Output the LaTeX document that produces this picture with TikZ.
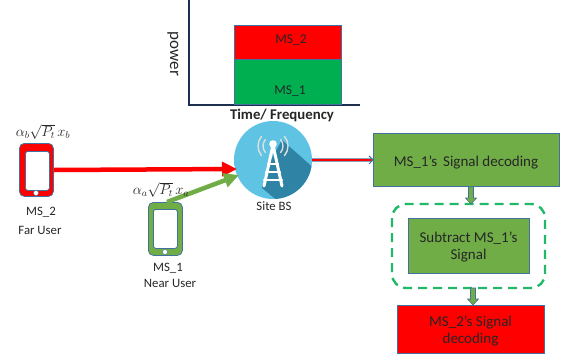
\documentclass[tikz,border=0pt]{standalone}
\usepackage{fontspec}
\setmainfont{Carlito}
\usetikzlibrary{arrows.meta,calc}
\definecolor{boxgreen}{HTML}{70AD47}
\definecolor{barGreen}{HTML}{00B050}
\definecolor{edgeblue}{HTML}{41719C}
\definecolor{navy}{HTML}{1F2F50}
\definecolor{dashgreen}{HTML}{22B86A}
\definecolor{skyb}{HTML}{5FC3E4}
\definecolor{shadeb}{HTML}{2F84A6}
\definecolor{txt}{HTML}{262626}
\tikzset{
  flowbox/.style={draw=edgeblue,line width=0.9pt,inner sep=0pt,anchor=north west},
  flowtext/.style={text=txt,font=\fontsize{15}{17}\selectfont,align=center,inner sep=0pt},
  barbox/.style={draw=edgeblue,line width=0.9pt,inner sep=0pt,anchor=north west},
  lbl/.style={text=txt,font=\fontsize{12.8}{14}\selectfont,align=center,inner sep=0pt},
  phone/.style={draw=edgeblue,line width=0.8pt,rounded corners=5pt,inner sep=0pt,anchor=north west,minimum width=34pt,minimum height=53pt},
  screen/.style={draw=edgeblue,line width=0.8pt,fill=white,rounded corners=2.5pt,inner sep=0pt,minimum width=24pt,minimum height=39pt,anchor=north west},
  homekey/.style={draw=edgeblue,line width=0.4pt,fill=white,circle,inner sep=0pt,minimum size=5pt},
  signal/.style={line width=4.5pt,-{Triangle[length=15pt,width=14pt]}},
  downarrow/.style={draw=edgeblue,fill=boxgreen,line width=0.6pt},
  axisline/.style={draw=navy,line width=1.5pt},
  mathlbl/.style={text=txt,inner sep=0pt,font=\fontsize{14.5}{16}\selectfont},
}
\begin{document}
\begin{tikzpicture}[x=1pt,y=-1pt]
\useasboundingbox (0,0) rectangle (564,362);
% chart
\coordinate (axtop) at (189,0);
\coordinate (axorig) at (189,105);
\coordinate (axend) at (360,105);
\draw[axisline,line join=miter] (axtop) -- (axorig) -- (axend);
\node[barbox,fill=red,minimum width=107pt,minimum height=34pt] (bar2) at (234,25) {};
\node[barbox,fill=barGreen,minimum width=107pt,minimum height=45pt] (bar1) at (234,59) {};
\node[text=txt,font=\fontsize{13.5}{14}\selectfont,inner sep=0pt] (bar2lbl) at (291,40) {MS\_2};
\node[text=txt,font=\fontsize{13.5}{14}\selectfont,inner sep=0pt] (bar1lbl) at (290,91) {MS\_1};
\node[rotate=-90,text=txt,font=\fontsize{17}{18}\selectfont,inner sep=0pt] (powerlbl) at (173,54) {power};
\node[text=txt,font=\bfseries\fontsize{14.8}{16}\selectfont,inner sep=0pt] (timelbl) at (282,115) {Time/ Frequency};
% base station
\node[circle,fill=skyb,minimum size=78pt,inner sep=0pt] (bs) at (273,160) {};
\begin{scope}
  \clip (bs.center) circle (39);
  \fill[shadeb] (282,140) -- (325,178) -- (295,215) -- (262,188) -- (268,165) -- cycle;
\end{scope}
\begin{scope}[line cap=round]
  \draw[white,line width=3pt] (273,145) -- (264,186);
  \draw[white,line width=3pt] (273,145) -- (282,186);
  \draw[white,line width=2.4pt] (268,164) -- (278,164);
  \draw[white,line width=2.4pt] (266,172) -- (280,172);
  \draw[white,line width=2.4pt] (264,180) -- (282,180);
  \fill[white] (273,144) circle (3.8);
  \draw[white!75!gray,line width=1.4pt] ([shift={(140:10)}]273,146) arc[start angle=140,end angle=220,radius=10];
  \draw[white!75!gray,line width=1.4pt] ([shift={(140:15)}]273,146) arc[start angle=140,end angle=220,radius=15];
  \draw[white!75!gray,line width=1.4pt] ([shift={(40:10)}]273,146) arc[start angle=40,end angle=-40,radius=10];
  \draw[white!75!gray,line width=1.4pt] ([shift={(40:15)}]273,146) arc[start angle=40,end angle=-40,radius=15];
\end{scope}
\node[lbl] (bslbl) at (274,206) {Site BS};
% phones
\node[phone,fill=red] (ph2) at (19,143) {};
\node[screen] (sc2) at (25,151) {};
\node[homekey] (hk2) at (36,193) {};
\node[phone,fill=boxgreen] (ph1) at (148,202) {};
\node[screen] (sc1) at (153,209) {};
\node[homekey] (hk1) at (165,252) {};
\node[lbl] (ms2) at (41,212) {MS\_2};
\node[lbl] (far) at (40,230) {Far User};
\node[lbl] (ms1) at (168,268) {MS\_1};
\node[lbl] (near) at (170,283) {Near User};
% signals
\coordinate (redin) at (237,169);
\coordinate (greenin) at (239,175);
\draw[signal,red] (ph2.east |- 0,170) -- (redin);
\draw[signal,boxgreen] (167,202) -- (greenin);
\node[mathlbl] (m2) at (43,132) {$\alpha_b\sqrt{P_t}\,x_b$};
\node[mathlbl] (m1) at (161,190) {$\alpha_a\sqrt{P_t}\,x_a$};
% boxes
\node[flowbox,fill=boxgreen,minimum width=186pt,minimum height=53pt] (b1) at (373,133) {};
\node[flowtext] (t1) at (466,162) {MS\_1’s\, Signal decoding};
\draw[dashgreen,line width=2.4pt,dash pattern=on 9pt off 6pt,rounded corners=14pt] (392,204) rectangle (545,288);
\coordinate (dashtop) at (471,204);
\coordinate (dashbot) at (473,288);
\node[flowbox,fill=boxgreen,minimum width=121pt,minimum height=55pt] (b2) at (408,218) {};
\node[flowtext] (t2) at (468.5,247) {Subtract MS\_1’s\\Signal};
\node[flowbox,fill=red,minimum width=147pt,minimum height=48pt] (b3) at (397,305) {};
\node[flowtext] (t3) at (470.5,331) {MS\_2’s Signal\\decoding};
% BS to box
\draw[edgeblue,line width=3.2pt,shorten >=1pt] (bs.east) -- (b1.west);
\draw[edgeblue,line width=1pt] ($(b1.west)+(-4,-4)$) -- (b1.west) -- ($(b1.west)+(-4,4)$);
\draw[red,line width=1.6pt,shorten >=2pt] (bs.east) -- (b1.west);
% down arrows
\path let \p1=(b1.south),\p2=(dashtop) in coordinate (a1) at (471,\y1) coordinate (a2) at (471,\y2);
\draw[downarrow] ($(a1)+(-2.5,0)$) -- ($(a2)+(-2.5,-6)$) -- ($(a2)+(-5.5,-6)$) -- (a2) -- ($(a2)+(5.5,-6)$) -- ($(a2)+(2.5,-6)$) -- ($(a1)+(2.5,0)$) -- cycle;
\path let \p1=(dashbot),\p2=(b3.north) in coordinate (a3) at (473,\y1) coordinate (a4) at (473,\y2);
\draw[downarrow] ($(a3)+(-2.5,0)$) -- ($(a4)+(-2.5,-6)$) -- ($(a4)+(-5.5,-6)$) -- (a4) -- ($(a4)+(5.5,-6)$) -- ($(a4)+(2.5,-6)$) -- ($(a3)+(2.5,0)$) -- cycle;
\end{tikzpicture}
\end{document}
